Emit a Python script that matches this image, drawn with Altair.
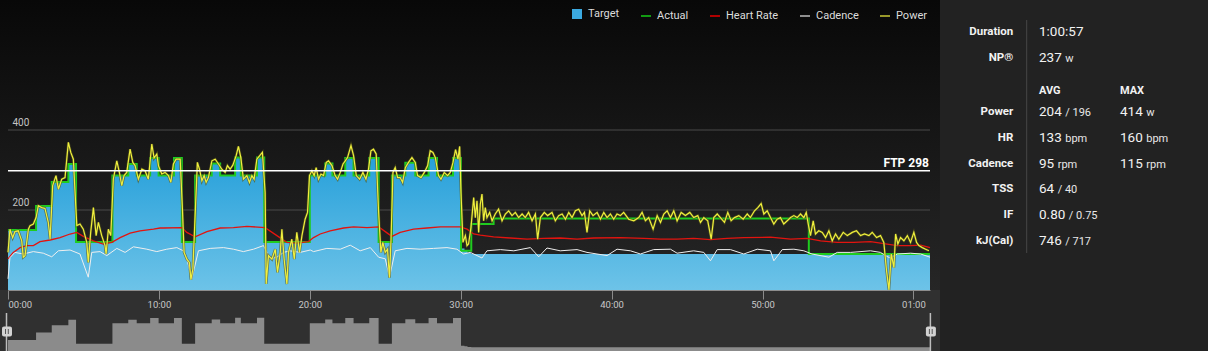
import altair as alt
import pandas as pd

# ---------------- data (minutes, watts / bpm / rpm) ----------------
target_t = [0, 1.86, 2.90, 4.00, 4.51, 6.92, 7.97, 8.53, 9.42, 9.98, 11.00, 11.52,
            12.40, 13.50, 14.06, 15.05, 15.43, 16.50, 16.98,
            20.00, 21.02, 21.50, 22.35, 22.90, 23.94, 24.56,
            25.44, 26.33, 26.99, 27.87, 28.43, 29.49, 30.02, 30.25, 30.45, 30.70, 61.1]
target_w = [150, 210, 270, 315, 120, 286, 315, 286, 330, 286, 330, 120,
            286, 316, 286, 331, 286, 331, 120,
            286, 316, 286, 330, 286, 330, 120,
            286, 318, 286, 330, 286, 330, 104, 98, 93, 90, 90]

actual_t = target_t[:32] + [30.02, 30.70, 32.18, 53.07, 61.1]
actual_w = target_w[:32] + [98, 165, 179, 90, 90]

hr_pts = [(0.00, 78), (0.35, 94), (0.80, 106), (1.24, 111), (1.68, 111), (2.12, 121), (2.79, 125),
          (3.45, 131), (4.11, 140), (4.56, 144), (4.99, 134), (5.66, 123), (6.32, 115), (6.88, 119),
          (7.43, 131), (8.09, 142), (8.75, 148), (9.64, 152), (10.08, 155), (10.30, 155), (11.52, 156),
          (11.85, 144), (12.40, 133), (13.18, 146), (14.06, 155), (14.94, 156), (15.83, 159), (17.04, 156),
          (17.82, 136), (18.48, 119), (19.14, 117), (19.91, 121), (20.25, 131), (20.69, 140), (21.35, 148),
          (22.24, 155), (22.90, 158), (23.79, 156), (24.56, 158), (25.00, 146), (25.44, 134), (25.99, 144),
          (26.88, 152), (27.76, 155), (28.65, 158), (29.97, 158), (30.42, 152), (30.86, 140), (31.30, 137),
          (32.18, 133), (33.29, 130), (34.40, 127), (35.50, 129), (36.60, 130), (37.71, 127), (38.81, 130),
          (40.58, 131), (42.13, 129), (43.24, 127), (44.34, 127), (45.44, 129), (46.55, 126), (47.66, 129),
          (48.76, 131), (50.53, 132), (51.86, 127), (52.96, 129), (53.85, 123), (54.95, 119), (56.05, 119),
          (57.16, 121), (58.04, 116), (58.93, 111), (59.81, 111), (60.48, 112), (61.10, 106)]

cad_pts = [(0.00, 28), (0.13, 81), (0.46, 94), (1.01, 90), (1.68, 96), (2.34, 92), (2.90, 83), (3.34, 98),
           (4.11, 100), (4.77, 90), (5.32, 32), (5.55, 94), (6.10, 96), (6.55, 86), (7.21, 104), (7.76, 94),
           (8.31, 108), (9.20, 102), (9.86, 96), (10.52, 102), (11.19, 106), (11.62, 98), (11.85, 78),
           (12.18, 28), (12.62, 98), (13.40, 104), (14.28, 106), (14.94, 102), (15.60, 96), (16.27, 102),
           (16.93, 111), (17.37, 78), (17.82, 82), (18.26, 94), (18.70, 98), (19.36, 94), (20.03, 100),
           (20.25, 96), (21.13, 104), (22.02, 102), (22.68, 112), (23.34, 98), (24.01, 106), (24.56, 82),
           (25.00, 78), (25.28, 32), (25.66, 98), (26.44, 104), (27.32, 102), (28.20, 104), (29.09, 106),
           (29.75, 102), (30.19, 90), (30.64, 94), (31.41, 80), (31.74, 98), (32.63, 101), (33.52, 98),
           (34.62, 106), (35.17, 83), (35.72, 105), (36.60, 98), (37.71, 101), (38.37, 94), (39.70, 86),
           (40.36, 102), (41.25, 98), (41.91, 90), (42.79, 101), (43.90, 102), (44.34, 92), (45.44, 98),
           (46.11, 94), (46.55, 73), (47.00, 101), (47.88, 101), (48.76, 90), (49.65, 102), (50.53, 98),
           (50.75, 73), (51.31, 101), (52.08, 102), (52.74, 98), (53.28, 90), (54.40, 82), (54.95, 94),
           (55.84, 94), (57.16, 98), (57.82, 94), (58.14, 86), (58.47, 80), (58.93, 90), (59.81, 92),
           (60.48, 90), (61.10, 82)]

power_pts = [(0.00, 94), (0.13, 152), (0.31, 131), (0.46, 146), (0.68, 148), (0.91, 123), (1.01, 82),
             (1.13, 86), (1.35, 152), (1.46, 161), (1.68, 165), (1.86, 181), (2.01, 211), (2.23, 206),
             (2.45, 204), (2.67, 169), (2.79, 127), (2.96, 261), (3.18, 286), (3.34, 252), (3.56, 277),
             (3.78, 281), (4.00, 369), (4.16, 344), (4.33, 327), (4.56, 161), (4.77, 165), (4.99, 152),
             (5.22, 119), (5.32, 69), (5.48, 144), (5.66, 206), (5.84, 136), (5.99, 169), (6.21, 136),
             (6.43, 111), (6.50, 90), (6.65, 152), (6.81, 136), (6.98, 277), (7.21, 323), (7.38, 294),
             (7.54, 261), (7.69, 286), (7.87, 294), (8.09, 352), (8.27, 319), (8.42, 311), (8.64, 277),
             (8.87, 302), (9.08, 298), (9.30, 277), (9.53, 365), (9.68, 330), (9.86, 340), (9.97, 311),
             (10.19, 290), (10.41, 294), (10.63, 286), (10.79, 269), (10.96, 315), (11.14, 327), (11.41, 327),
             (11.56, 202), (11.67, 94), (11.85, 77), (12.02, 69), (12.12, 26), (12.25, 52), (12.40, 186),
             (12.55, 319), (12.69, 302), (12.85, 273), (13.00, 286), (13.13, 269), (13.28, 281), (13.51, 323),
             (13.73, 327), (13.95, 315), (14.17, 302), (14.39, 294), (14.54, 311), (14.72, 302), (14.90, 312),
             (15.12, 336), (15.27, 359), (15.43, 331), (15.60, 277), (15.83, 286), (16.00, 269), (16.16, 286),
             (16.31, 277), (16.49, 327), (16.71, 337), (16.86, 344), (17.04, 244), (17.11, 15), (17.26, 86),
             (17.49, 77), (17.71, 102), (17.86, 44), (18.04, 94), (18.15, 152), (18.30, 77), (18.48, 15),
             (18.59, 94), (18.81, 127), (18.97, 77), (19.14, 144), (19.32, 94), (19.48, 136), (19.69, 177),
             (19.85, 194), (19.98, 286), (20.14, 298), (20.29, 286), (20.42, 306), (20.58, 277), (20.74, 290),
             (20.91, 286), (21.09, 319), (21.24, 323), (21.47, 311), (21.68, 286), (21.84, 277), (22.02, 294),
             (22.20, 315), (22.35, 323), (22.50, 331), (22.73, 361), (22.90, 336), (23.08, 286), (23.30, 277),
             (23.52, 294), (23.72, 277), (23.89, 302), (24.05, 348), (24.22, 352), (24.40, 340), (24.55, 202),
             (24.71, 94), (24.84, 119), (25.00, 94), (25.15, 102), (25.28, 31), (25.38, 123), (25.51, 294),
             (25.66, 306), (25.82, 281), (25.99, 281), (26.15, 269), (26.33, 306), (26.54, 319), (26.77, 331),
             (26.99, 319), (27.14, 286), (27.37, 281), (27.59, 294), (27.81, 311), (27.98, 348), (28.16, 344),
             (28.32, 331), (28.53, 286), (28.69, 277), (28.91, 294), (29.13, 286), (29.31, 294), (29.49, 319),
             (29.66, 351), (29.82, 327), (29.93, 359), (30.02, 244), (30.15, 119), (30.31, 136), (30.42, 111),
             (30.52, 115), (30.68, 156), (30.86, 231), (30.97, 181), (31.08, 223), (31.19, 144), (31.30, 215),
             (31.41, 240), (31.52, 173), (31.63, 206), (31.74, 181), (31.92, 194), (32.08, 173), (32.29, 190),
             (32.51, 202), (32.74, 173), (32.96, 190), (33.18, 198), (33.40, 186), (33.62, 194), (33.84, 181),
             (34.07, 190), (34.28, 181), (34.50, 194), (34.73, 173), (34.95, 190), (35.10, 127), (35.28, 181),
             (35.54, 194), (35.76, 186), (36.05, 194), (36.27, 173), (36.49, 186), (36.72, 190), (36.94, 177),
             (37.16, 194), (37.38, 181), (37.60, 198), (37.82, 202), (38.04, 186), (38.20, 194), (38.37, 144),
             (38.55, 198), (38.77, 186), (39.04, 194), (39.26, 177), (39.48, 194), (39.70, 181), (39.92, 190),
             (40.14, 177), (40.36, 190), (40.58, 186), (40.80, 194), (41.13, 177), (41.47, 173), (41.80, 181),
             (42.02, 194), (42.24, 173), (42.46, 181), (42.75, 152), (43.02, 186), (43.24, 169), (43.46, 190),
             (43.68, 198), (43.90, 181), (44.12, 198), (44.34, 173), (44.61, 194), (44.89, 186), (45.18, 194),
             (45.44, 181), (45.71, 186), (45.89, 169), (46.11, 181), (46.37, 173), (46.60, 127), (46.77, 181),
             (47.00, 190), (47.21, 181), (47.48, 169), (47.70, 194), (47.92, 173), (48.14, 181), (48.43, 186),
             (48.72, 177), (48.99, 190), (49.20, 181), (49.47, 198), (49.69, 206), (49.91, 216), (50.09, 190),
             (50.31, 198), (50.53, 181), (50.75, 165), (50.97, 177), (51.19, 181), (51.41, 165), (51.64, 173),
             (51.86, 181), (52.08, 186), (52.30, 181), (52.52, 190), (52.74, 181), (52.90, 194), (53.03, 165),
             (53.18, 136), (53.36, 173), (53.51, 140), (53.73, 148), (53.96, 144), (54.18, 131), (54.40, 148),
             (54.62, 123), (54.84, 140), (55.06, 127), (55.35, 144), (55.62, 136), (55.95, 144), (56.23, 148),
             (56.50, 136), (56.76, 140), (57.05, 136), (57.27, 144), (57.56, 131), (57.82, 136), (58.04, 119),
             (58.22, 48), (58.38, 0), (58.53, 90), (58.71, 56), (58.82, 140), (58.97, 115), (59.15, 131),
             (59.37, 123), (59.60, 136), (59.81, 119), (60.03, 144), (60.21, 119), (60.36, 111), (60.59, 106),
             (60.81, 102), (61.03, 98)]

ftp_value = 298
grid_values = [200, 400]
tick_minutes = [0, 10, 20, 30, 40, 50, 60]

legend_names = ["Target", "Actual", "Heart Rate", "Cadence", "Power"]
legend_fill = ["#3ba9e0", "transparent", "transparent", "transparent", "transparent"]
legend_stroke = ["transparent", "#129a12", "#b00000", "#8e8e8e", "#98982a"]
legend_shape = ["square", "stroke", "stroke", "stroke", "stroke"]

stat_labels = ["Duration", "NP®", "", "Power", "HR", "Cadence", "TSS", "IF", "kJ(Cal)"]
stat_rows = [0, 1, 2.27, 3.1, 4.1, 5.1, 6.1, 7.1, 8.1]
avg_main = ["1:00:57", "237", "", "204", "133", "95", "64", "0.80", "746"]
avg_unit = ["", "w", "", "/ 196", "bpm", "rpm", "/ 40", "/ 0.75", "/ 717"]
max_main = ["", "", "", "414", "160", "115", "", "", ""]
max_unit = ["", "", "", "w", "bpm", "rpm", "", "", ""]
col_headers = ["AVG", "MAX"]

# ---------------- layout ----------------
W, H = 922, 290
FONT = "Roboto"
x_scale = alt.Scale(domain=[0, 61.1], nice=False, zero=False)
y_scale = alt.Scale(domain=[0, 725], nice=False)
nav_scale = alt.Scale(domain=[0, 400], range=[358.4, 309.3], nice=False)
stat_scale = alt.Scale(domain=[0, 8.1], range=[31, 240], nice=False, zero=False)

x_axis = alt.Axis(values=tick_minutes, title=None, grid=False,
                  labelExpr="datum.value == 60 ? '01:00' : (datum.value < 10 ? '0' : '') + datum.value + ':00'",
                  tickSize=9, tickColor="#8a8a8a", domainColor="#8d8d8d", domainWidth=1,
                  labelColor="#c8c8c8", labelFontSize=9.5, labelFont=FONT, labelPadding=0, zindex=1)


def series(t, v):
    return pd.DataFrame({"t": t, "v": v})


def pairs(p):
    return series([a for a, _ in p], [b for _, b in p])


one = pd.DataFrame({"k": [0]})
X = alt.X("t:Q", scale=x_scale, axis=x_axis)
Y = alt.Y("v:Q", scale=y_scale, axis=None)

bg = alt.Chart(one).mark_rect(
    fill=alt.Gradient(gradient="linear", x1=0, x2=0, y1=0, y2=1,
                      stops=[alt.GradientStop(color="#080808", offset=0),
                             alt.GradientStop(color="#262626", offset=1)])
).encode(x=alt.value(-8), x2=alt.value(932), y=alt.value(0), y2=alt.value(H))

grid = alt.Chart(pd.DataFrame({"v": grid_values})).mark_rule(color="#4b4b4b", strokeWidth=1).encode(
    y=alt.Y("v:Q", scale=y_scale, axis=alt.Axis(
        values=grid_values, domain=False, ticks=False, grid=False, title=None,
        labelAlign="left", labelPadding=-4, labelBaseline="bottom", labelOffset=-3,
        labelColor="#c4c4c4", labelFontSize=10, labelFont=FONT, zindex=1)))

area = alt.Chart(series(target_t, target_w)).mark_area(
    interpolate="step-after",
    fill=alt.Gradient(gradient="linear", x1=0, x2=0, y1=0, y2=1,
                      stops=[alt.GradientStop(color="#27a0da", offset=0),
                             alt.GradientStop(color="#6dc3e8", offset=1)])
).encode(x=X, y=Y)

actual = alt.Chart(series(actual_t, actual_w)).mark_line(
    interpolate="step-after", color="#1fcc1f", strokeWidth=2).encode(x=X, y=Y)
hr = alt.Chart(pairs(hr_pts)).mark_line(color="#e3140f", strokeWidth=1.3).encode(x=X, y=Y)
cad = alt.Chart(pairs(cad_pts)).mark_line(color="#efefef", strokeWidth=1).encode(x=X, y=Y)
power_shadow = alt.Chart(pairs(power_pts)).mark_line(color="#55551a", strokeWidth=2.6, opacity=0.7).encode(x=X, y=Y)
power = alt.Chart(pairs(power_pts)).mark_line(color="#f0f03e", strokeWidth=1.2).encode(x=X, y=Y)

ftp_df = pd.DataFrame({"v": [ftp_value], "label": [f"FTP {ftp_value}"]})
ftp_rule = alt.Chart(ftp_df).mark_rule(color="#ffffff", strokeWidth=1.5).encode(y=Y)
ftp_text = alt.Chart(ftp_df).mark_text(align="right", baseline="alphabetic", dy=-4, color="#ffffff",
                                       fontWeight="bold", fontSize=12, font=FONT).encode(
    x=alt.value(921), y=Y, text="label:N")

leg_def = alt.Legend(title=None, orient="none", legendX=563, legendY=8, direction="horizontal",
                     symbolSize=100, symbolStrokeWidth=2, symbolOpacity=1, labelColor="#dcdcdc",
                     labelFontSize=11, labelFont=FONT, columnPadding=17, labelOffset=5, padding=0)
leg = alt.Chart(pd.DataFrame({"s": legend_names})).mark_point(filled=True, opacity=0).encode(
    x=alt.value(-500), y=alt.value(-500),
    fill=alt.Fill("s:N", scale=alt.Scale(domain=legend_names, range=legend_fill), legend=leg_def),
    stroke=alt.Stroke("s:N", scale=alt.Scale(domain=legend_names, range=legend_stroke), legend=leg_def),
    shape=alt.Shape("s:N", scale=alt.Scale(domain=legend_names, range=legend_shape), legend=leg_def),
)

nav = alt.Chart(series(target_t, target_w)).mark_area(interpolate="step-after", color="#8b8b8b").encode(
    x=X, y=alt.Y("v:Q", scale=nav_scale, axis=None))

# navigator handles
handles = []
for hx in (-1.5, 922.4):
    handles.append(alt.Chart(one).mark_rule(color="#bdbdbd", strokeWidth=1.5).encode(
        x=alt.value(hx), y=alt.value(313), y2=alt.value(360)))
    handles.append(alt.Chart(one).mark_rect(color="#d2d2d2", cornerRadius=2).encode(
        x=alt.value(hx - 4.5), x2=alt.value(hx + 5.5), y=alt.value(326.5), y2=alt.value(336.5)))
    for bx in (hx - 1, hx + 1.8):
        handles.append(alt.Chart(one).mark_rule(color="#555555", strokeWidth=1).encode(
            x=alt.value(bx), y=alt.value(329), y2=alt.value(334)))

# stats panel
panel = alt.Chart(one).mark_rect(color="#222222").encode(
    x=alt.value(932), x2=alt.value(1205), y=alt.value(0), y2=alt.value(360))
divider = alt.Chart(one).mark_rule(color="#474747", strokeWidth=1).encode(
    x=alt.value(1018.7), y=alt.value(20), y2=alt.value(253))

LABEL_X, VAL_X, MAX_X = 1005.3, 1031, 1112
MAIN_SIZE, UNIT_SIZE = 13.5, 11


def text_w(s, size):
    w = {".": 0.264, ":": 0.242, " ": 0.248, "/": 0.412}
    return sum(w.get(c, 0.5615) for c in s) * size


SY = alt.Y("row:Q", scale=stat_scale, axis=None)
stats = []
lab_df = pd.DataFrame({"row": stat_rows, "text": stat_labels})
stats.append(alt.Chart(lab_df[lab_df.text != ""]).mark_text(
    align="right", baseline="alphabetic", dy=4, color="#f2f2f2", fontSize=11.5, fontWeight="bold", font=FONT
).encode(x=alt.value(LABEL_X), y=SY, text="text:N"))
hdr_row = stat_rows[2]
for hx, htxt in zip((VAL_X, MAX_X), col_headers):
    stats.append(alt.Chart(pd.DataFrame({"row": [hdr_row], "text": [htxt]})).mark_text(
        align="left", baseline="alphabetic", dy=4, color="#f2f2f2", fontSize=11, fontWeight="bold", font=FONT
    ).encode(x=alt.value(hx), y=SY, text="text:N"))
for base_x, mains, units in ((VAL_X, avg_main, avg_unit), (MAX_X, max_main, max_unit)):
    mdf = pd.DataFrame({"row": stat_rows, "text": mains})
    stats.append(alt.Chart(mdf[mdf.text != ""]).mark_text(
        align="left", baseline="alphabetic", dy=5, color="#f2f2f2", fontSize=MAIN_SIZE, font=FONT
    ).encode(x=alt.value(base_x), y=SY, text="text:N"))
    for r, m, u in zip(stat_rows, mains, units):
        if u:
            stats.append(alt.Chart(pd.DataFrame({"row": [r], "text": [u]})).mark_text(
                align="left", baseline="alphabetic", dy=5, color="#e8e8e8", fontSize=UNIT_SIZE, font=FONT
            ).encode(x=alt.value(base_x + text_w(m, MAIN_SIZE) + 3.5), y=SY, text="text:N"))

layers = [bg, grid, area, actual, hr, cad, power_shadow, power, ftp_rule, ftp_text, leg,
          nav, *handles, panel, divider, *stats]

chart = alt.layer(*layers).resolve_scale(
    y="independent"
).properties(
    width=W, height=H,
    padding={"left": 8, "top": 0, "right": 278, "bottom": 61},
    autosize=alt.AutoSizeParams(type="none"),
    background="#303030",
).configure(font=FONT).configure_view(strokeWidth=0)

chart.save("out.html", embed_options={"renderer": "svg", "actions": False})
